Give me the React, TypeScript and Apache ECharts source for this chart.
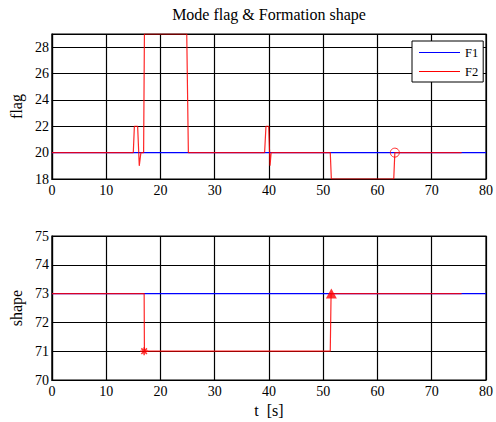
import React, { useEffect, useRef } from "react";
import * as echarts from "echarts";

// ---- data ----
const tMin = 0;
const tMax = 80;
const tStep = 10;

const flagMin = 18;
const flagMax = 29;
const flagStep = 2;

const shapeMin = 70;
const shapeMax = 75;
const shapeStep = 1;

const f1FlagT = [0, 80];
const f1FlagV = [20, 20];

const f2FlagT = [0, 15.0, 15.2, 15.8, 16.1, 16.4, 16.9, 17.05, 24.85, 25.15, 39.2, 39.45, 39.95, 40.2, 40.4, 51.3, 51.5, 63.0, 63.2, 75.5];
const f2FlagV = [20, 20, 22, 22, 19, 20, 20, 29, 29, 20, 20, 22, 22, 19, 20, 20, 18, 18, 20, 20];

const f1ShapeT = [0, 80];
const f1ShapeV = [73, 73];

const f2ShapeT = [0, 17.0, 17.05, 51.3, 51.45, 75.5];
const f2ShapeV = [73, 73, 71, 71, 73, 73];

const flagCircleT = [63.2];
const flagCircleV = [20];
const shapeStarT = [17.0];
const shapeStarV = [71];
const shapeTriT = [51.5];
const shapeTriV = [73];

const zip = (a: number[], b: number[]) => a.map((v, i) => [v, b[i]]);

const FONT = "'Liberation Serif', 'Times New Roman', serif";
const BLUE = "#0000ff";
const RED = "#ff0000";

export default function App() {
  const ref = useRef<HTMLDivElement>(null);
  useEffect(() => {
    if (!ref.current) return;
    const chart = echarts.init(ref.current, undefined, { renderer: "svg" });
    const axisLabel = { color: "#000", fontFamily: FONT, fontSize: 14 };
    const splitLine = { show: true, lineStyle: { color: "#000", width: 1.2 } };
    const xAxisCommon = {
      type: "value" as const,
      min: tMin,
      max: tMax,
      interval: tStep,
      axisLine: { show: true, lineStyle: { color: "#000", width: 1.2 } },
      axisTick: { show: false },
      axisLabel: { ...axisLabel, margin: 4 },
      splitLine,
    };
    const lineCommon = {
      type: "line" as const,
      symbol: "none",
      silent: true,
    };
    chart.setOption({
      animation: false,
      backgroundColor: "#fff",
      title: {
        text: "Mode flag & Formation shape",
        left: 269,
        textAlign: "center",
        top: 6,
        padding: 0,
        textStyle: { fontFamily: FONT, fontSize: 16, fontWeight: "normal", color: "#000" },
      },
      legend: {
        data: ["F1", "F2"],
        orient: "vertical",
        left: 412,
        top: 41,
        padding: [5, 5, 4, 7],
        itemGap: 6,
        itemWidth: 41,
        itemHeight: 1,
        icon: "rect",
        backgroundColor: "#fff",
        borderColor: "#000",
        borderWidth: 1,
        borderRadius: 0,
        textStyle: { fontFamily: FONT, fontSize: 12.5, color: "#000", padding: [0, 0, 0, 0] },
      },
      grid: [
        { left: 50, top: 34, width: 439, height: 145, show: true, borderColor: "#000", borderWidth: 1.2, backgroundColor: "transparent" },
        { left: 50, top: 236, width: 439, height: 144, show: true, borderColor: "#000", borderWidth: 1.2, backgroundColor: "transparent" },
      ],
      xAxis: [
        { ...xAxisCommon, gridIndex: 0 },
        {
          ...xAxisCommon,
          gridIndex: 1,
          name: "t  [s]",
          nameLocation: "middle",
          nameGap: 22,
          nameTextStyle: { fontFamily: FONT, fontSize: 16, color: "#000" },
        },
      ],
      yAxis: [
        {
          type: "value",
          gridIndex: 0,
          min: flagMin,
          max: flagMax,
          interval: flagStep,
          name: "flag",
          nameLocation: "middle",
          nameGap: 25,
          nameTextStyle: { fontFamily: FONT, fontSize: 16, color: "#000" },
          axisLine: { show: true, lineStyle: { color: "#000", width: 1.2 } },
          axisTick: { show: false },
          axisLabel: { ...axisLabel, margin: 3, showMaxLabel: false },
          splitLine,
        },
        {
          type: "value",
          gridIndex: 1,
          min: shapeMin,
          max: shapeMax,
          interval: shapeStep,
          name: "shape",
          nameLocation: "middle",
          nameGap: 25,
          nameTextStyle: { fontFamily: FONT, fontSize: 16, color: "#000" },
          axisLine: { show: true, lineStyle: { color: "#000", width: 1.2 } },
          axisTick: { show: false },
          axisLabel: { ...axisLabel, margin: 3 },
          splitLine,
        },
      ],
      series: [
        { ...lineCommon, name: "F1", xAxisIndex: 0, yAxisIndex: 0, data: zip(f1FlagT, f1FlagV), color: BLUE, lineStyle: { color: BLUE, width: 1.2 }, z: 3 },
        { ...lineCommon, name: "F2", xAxisIndex: 0, yAxisIndex: 0, data: zip(f2FlagT, f2FlagV), color: RED, lineStyle: { color: RED, width: 1.2, opacity: 0.85 }, z: 4 },
        { ...lineCommon, name: "F1", xAxisIndex: 1, yAxisIndex: 1, data: zip(f1ShapeT, f1ShapeV), color: BLUE, lineStyle: { color: BLUE, width: 1.2 }, z: 3 },
        { ...lineCommon, name: "F2", xAxisIndex: 1, yAxisIndex: 1, data: zip(f2ShapeT, f2ShapeV), color: RED, lineStyle: { color: RED, width: 1.2, opacity: 0.85 }, z: 4 },
        {
          type: "scatter",
          name: "m1",
          xAxisIndex: 0,
          yAxisIndex: 0,
          data: zip(flagCircleT, flagCircleV),
          symbol: "circle",
          symbolSize: 9,
          itemStyle: { color: "transparent", borderColor: RED, borderWidth: 1 },
          silent: true,
          z: 5,
        },
        {
          type: "scatter",
          name: "m2",
          xAxisIndex: 1,
          yAxisIndex: 1,
          data: zip(shapeStarT, shapeStarV),
          symbol: "path://M5 0 L5 10 M0 5 L10 5 M1.5 1.5 L8.5 8.5 M1.5 8.5 L8.5 1.5",
          symbolSize: 8,
          itemStyle: { color: "transparent", borderColor: RED, borderWidth: 1.5 },
          silent: true,
          z: 5,
        },
        {
          type: "scatter",
          name: "m3",
          xAxisIndex: 1,
          yAxisIndex: 1,
          data: zip(shapeTriT, shapeTriV),
          symbol: "triangle",
          symbolSize: [11, 10],
          itemStyle: { color: RED },
          silent: true,
          z: 5,
        },
      ],
    });
    return () => chart.dispose();
  }, []);
  return (
    <div
      ref={ref}
      style={{ position: "fixed", left: 0, top: 0, width: 496, height: 422 }}
    />
  );
}
